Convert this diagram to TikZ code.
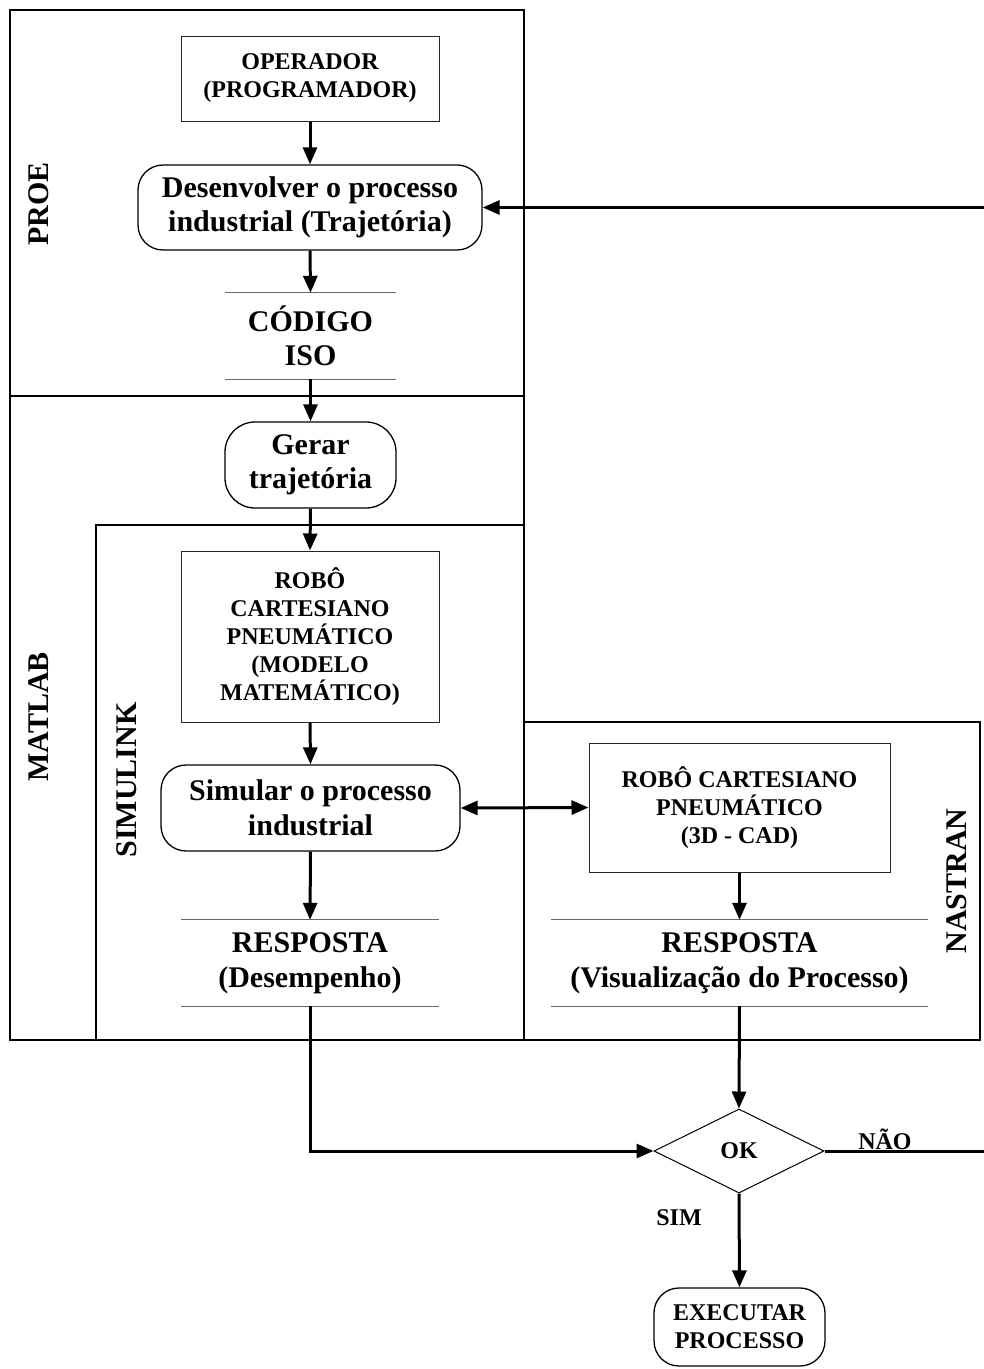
\documentclass[tikz,border=0pt]{standalone}
\usepackage{fontspec}
\setmainfont{Liberation Serif}
\usetikzlibrary{arrows.meta,shapes.geometric}
\begin{document}
\begin{tikzpicture}[x=1pt,y=-1pt,
  big/.style={font=\fontsize{30}{34.5}\selectfont\bfseries, align=center},
  small/.style={font=\fontsize{24}{28}\selectfont\bfseries, align=center},
  rectbox/.style={draw=black!85, line width=1pt, inner sep=0pt},
  roundbox/.style={draw, line width=1.3pt, rounded corners=25pt, inner sep=0pt},
  storebox/.style={inner sep=0pt},
  storeline/.style={draw=black!60, line width=1.3pt},
  region/.style={draw, line width=1.8pt},
  subregion/.style={draw, line width=1.5pt},
  conn/.style={line width=3pt, -{Triangle[width=14pt,length=17pt]}},
  bconn/.style={line width=3pt, {Triangle[width=14pt,length=17pt]}-{Triangle[width=14pt,length=17pt]}},
  plain/.style={line width=3pt},
  lanelabel/.style={font=\fontsize{30}{34}\selectfont\bfseries, rotate=90}
]
\useasboundingbox (0,0) rectangle (984,1369);

% regions
\draw[region] (10,10) rectangle (524,396);
\draw[region] (10,396) rectangle (524,1040);
\draw[subregion] (96,525) rectangle (524,1040);
\draw[subregion] (524,722) rectangle (980,1040);

\node[lanelabel] (lproe) at (39,204) {PROE};
\node[lanelabel] (lmatlab) at (39,717) {MATLAB};
\node[lanelabel] (lsim) at (127,780) {SIMULINK};
\node[lanelabel] (lnas) at (957,881) {NASTRAN};

% nodes
\node[rectbox, small, minimum width=258pt, minimum height=85pt] (op) at (310,78.5) {OPERADOR\\(PROGRAMADOR)};
\node[roundbox, big, minimum width=344pt, minimum height=85pt] (dev) at (310,207.5) {Desenvolver o processo\\industrial (Trajetória)};
\node[storebox, big, minimum width=171pt, minimum height=86pt] (cod) at (310.5,336) {CÓDIGO\\ISO};
\node[roundbox, rounded corners=30pt, big, minimum width=171pt, minimum height=86pt] (gerar) at (310.5,465) {Gerar\\trajetória};
\node[rectbox, small, minimum width=258pt, minimum height=171pt] (robo1) at (310,636.5) {ROBÔ\\CARTESIANO\\PNEUMÁTICO\\(MODELO\\MATEMÁTICO)};
\node[roundbox, big, minimum width=299pt, minimum height=86pt] (sim) at (310.5,808) {Simular o processo\\industrial};
\node[rectbox, small, minimum width=301pt, minimum height=129pt] (robo2) at (739.5,807.5) {ROBÔ CARTESIANO\\PNEUMÁTICO\\(3D - CAD)};
\node[storebox, big, minimum width=258pt, minimum height=86pt] (resp1) at (310,963) {RESPOSTA\\(Desempenho)};
\node[storebox, big, minimum width=377pt, minimum height=86pt] (resp2) at (739.5,963) {RESPOSTA\\(Visualização do Processo)};
\node[draw, line width=1pt, diamond, minimum width=170pt, minimum height=84pt, inner sep=0pt, small] (ok) at (739,1151) {OK};
\node[roundbox, small, minimum width=171pt, minimum height=78pt] (exec) at (739.5,1327) {EXECUTAR\\PROCESSO};

\node[small] (nao) at (885,1139) {NÃO};
\node[small] (simlbl) at (679,1218) {SIM};

% store lines
\draw[storeline] (cod.north west) -- (cod.north east);
\draw[storeline] (cod.south west) -- (cod.south east);
\draw[storeline] (resp1.north west) -- (resp1.north east);
\draw[storeline] (resp1.south west) -- (resp1.south east);
\draw[storeline] (resp2.north west) -- (resp2.north east);
\draw[storeline] (resp2.south west) -- (resp2.south east);

% connectors
\draw[conn] (op.south) -- (dev.north);
\draw[conn] (dev.south) -- (cod.north);
\draw[conn] (cod.south) -- (gerar.north);
\draw[conn] (gerar.south) -- (robo1.north);
\draw[conn] (robo1.south) -- (sim.north);
\draw[bconn] (sim.east) -- (robo2.west);
\draw[conn] (sim.south) -- (resp1.north);
\draw[conn] (robo2.south) -- (resp2.north);
\draw[conn] (resp1.south) |- (ok.west);
\draw[conn] (resp2.south) -- (ok.north);
\draw[conn] (ok.south) -- (exec.north);
\coordinate (fbr) at (992,1151);
\draw[conn] (ok.east) -- (fbr) |- (dev.east);
\end{tikzpicture}
\end{document}
